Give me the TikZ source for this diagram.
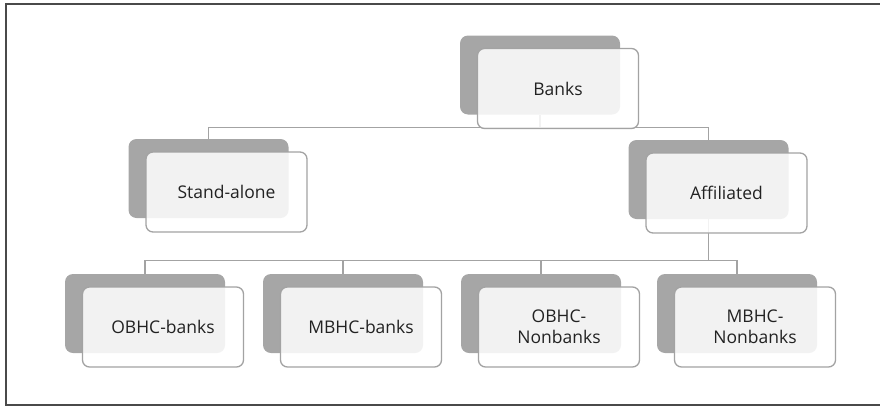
\documentclass[tikz,border=0pt]{standalone}
\usepackage{fontspec}
\setmainfont{Open Sans}
\usetikzlibrary{positioning}

\definecolor{backgray}{HTML}{A6A6A6}
\definecolor{linegray}{HTML}{A3A3A3}
\definecolor{framegray}{HTML}{4A4A4A}
\definecolor{textdark}{HTML}{222222}

\tikzset{
    backbox/.style={rectangle, rounded corners=8pt, fill=backgray, inner sep=0pt,
        minimum width=160pt, minimum height=79pt},
    frontbox/.style={rectangle, rounded corners=7pt, draw=linegray, line width=1.3pt,
        fill=white, fill opacity=0.86, text opacity=1, text=textdark, inner sep=0pt,
        minimum width=161pt, minimum height=80pt, align=center,
        font=\fontsize{17.5}{21}\selectfont, xshift=18pt, yshift=-13.5pt},
    link/.style={draw=linegray, line width=1.4pt},
}

\begin{document}
\begin{tikzpicture}[x=1pt, y=-1pt]
    \useasboundingbox (0,0) rectangle (880,407);
    % Rahmen
    \draw[framegray, line width=2pt] (880,4) -- (6,4) -- (6,405) -- (880,405);

    % hintere Kästen
    \node[backbox] (banks) at (540,75) {};
    \node[backbox] (alone) at (208.5,178.5) {};
    \node[backbox] (affil) at (708.5,179.5) {};
    \node[backbox] (obank) at (145,313.5) {};
    \node[backbox] (mbank) at (343,313.5) {};
    \node[backbox] (onon)  at (541,313.5) {};
    \node[backbox] (mnon)  at (737,313.5) {};

    % Verbindungen
    \coordinate (topbus) at (540,127.5);
    \coordinate (lowbus) at (708.5,260.5);
    \draw[link] (banks.south) -- (topbus);
    \draw[link] (alone.north) |- (topbus) -| (affil.north);
    \draw[link] (affil.south) -- (lowbus);
    \draw[link] (obank.north) |- (lowbus) -| (mnon.north);
    \draw[link] (mbank.north) -- (mbank.north |- lowbus);
    \draw[link] (onon.north) -- (onon.north |- lowbus);

    % vordere Kästen
    \node[frontbox] (banksF) at (banks) {Banks};
    \node[frontbox] (aloneF) at (alone) {Stand-alone};
    \node[frontbox] (affilF) at (affil) {Affiliated};
    \node[frontbox] (obankF) at (obank) {OBHC-banks};
    \node[frontbox] (mbankF) at (mbank) {MBHC-banks};
    \node[frontbox] (ononF)  at (onon)  {OBHC-\\Nonbanks};
    \node[frontbox] (mnonF)  at (mnon)  {MBHC-\\Nonbanks};
\end{tikzpicture}
\end{document}
